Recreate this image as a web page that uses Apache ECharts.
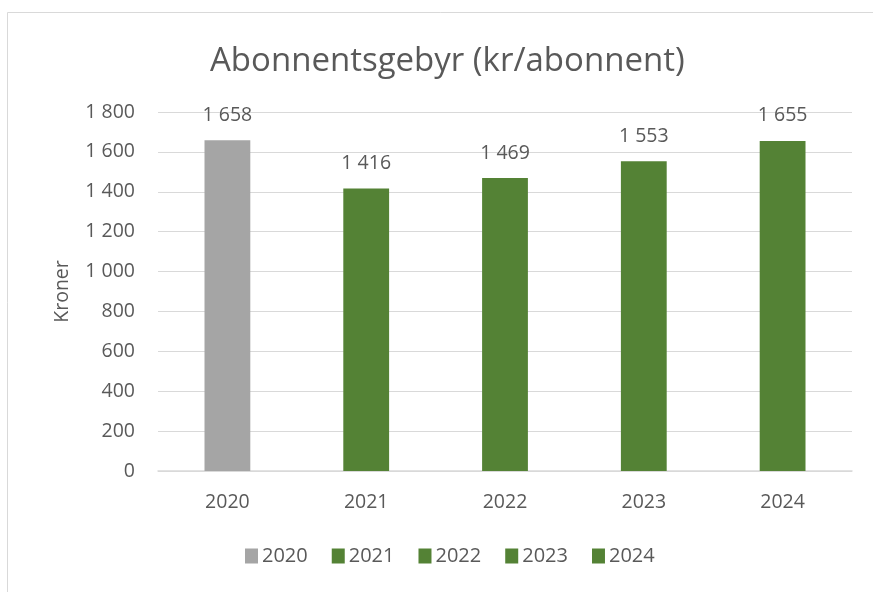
<!DOCTYPE html>
<html>
<head>
<meta charset="utf-8">
<script src="https://cdn.jsdelivr.net/npm/echarts@6/dist/echarts.min.js"></script>
<style>
  html, body { margin: 0; padding: 0; background: #fff; }
  #chart { width: 873px; height: 592px; }
</style>
</head>
<body>
<div id="chart"></div>
<script>
// data
var years = ['2020', '2021', '2022', '2023', '2024'];
var values = [1658, 1416, 1469, 1553, 1655];
var barColors = ['#A5A5A5', '#548235', '#548235', '#548235', '#548235'];
var yTicks = { min: 0, max: 1800, interval: 200 };

var txt = '#595959';
var fnt = '"Open Sans", "Liberation Sans", sans-serif';

// tusenskille med mellomrom
function fmt(v) {
	return String(v).replace(/\B(?=(\d{3})+(?!\d))/g, ' ');
}

var series = [];
for (var i = 0; i < years.length; i++) {
	var d = [];
	for (var j = 0; j < years.length; j++) {
		d.push(i == j ? values[j] : '-');
	}
	series.push({
		name: years[i],
		type: 'bar',
		stack: 'all',
		barWidth: '33%',
		data: d,
		itemStyle: { color: barColors[i] },
		label: {
			show: true,
			position: 'top',
			distance: 15,
			color: txt,
			fontFamily: fnt,
			fontSize: 19.5,
			formatter: function (p) { return fmt(p.value); }
		}
	});
}

var myChart = echarts.init(document.getElementById('chart'));
var option = {
	backgroundColor: '#fff',
	animation: false,
	title: {
		text: 'Abonnentsgebyr (kr/abonnent)',
		left: 205,
		top: 40,
		textStyle: { color: txt, fontFamily: fnt, fontSize: 33, fontWeight: 'normal' }
	},
	graphic: [{
		type: 'rect',
		shape: { x: 7.5, y: 12.5, width: 900, height: 620 },
		style: { fill: 'none', stroke: '#d9d9d9', lineWidth: 1 },
		silent: true
	}],
	legend: {
		bottom: 21,
		left: 240,
		itemWidth: 13,
		itemHeight: 15,
		itemGap: 24,
		icon: 'rect',
		textStyle: { color: txt, fontFamily: fnt, fontSize: 20, padding: [0, 0, 0, -1] },
		data: years
	},
	grid: { left: 158, right: 21, top: 112, bottom: 121 },
	xAxis: {
		type: 'category',
		data: years,
		axisTick: { show: false },
		axisLine: { lineStyle: { color: '#d9d9d9', width: 1.5 } },
		axisLabel: { color: txt, fontFamily: fnt, fontSize: 19.5, margin: 21 }
	},
	yAxis: {
		type: 'value',
		min: yTicks.min,
		max: yTicks.max,
		interval: yTicks.interval,
		name: 'Kroner',
		nameLocation: 'middle',
		nameGap: 86,
		nameTextStyle: { color: txt, fontFamily: fnt, fontSize: 19.5 },
		axisLabel: { color: txt, fontFamily: fnt, fontSize: 19.5, margin: 23, formatter: fmt },
		splitLine: { lineStyle: { color: '#d9d9d9', width: 1 } }
	},
	series: series
};
myChart.setOption(option);
</script>
</body>
</html>
